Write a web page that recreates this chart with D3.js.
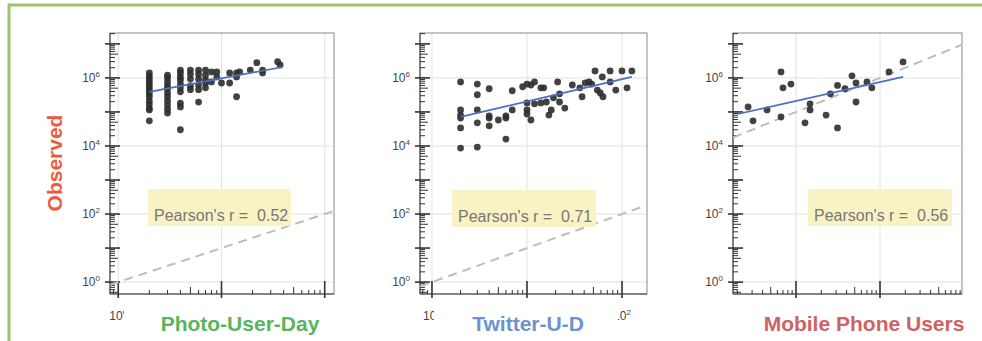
<!DOCTYPE html>
<html><head><meta charset="utf-8">
<script src="https://cdn.jsdelivr.net/npm/d3@7"></script>
<style>
body{margin:0;background:#fff}
svg{display:block;font-family:"Liberation Sans",Arial,sans-serif}
</style>
</head><body>
<svg id="c" width="982" height="341"></svg>
<script>
// ---------------- data ----------------
const titles = ["Photo-User-Day", "Twitter-U-D", "Mobile Phone Users"];
const yAxisTitle = "Observed";
const pearsonR = ["0.52", "0.71", "0.56"];

const photoX = [2,2,2,2,2,2,2,2,2,2,2,2,2,2,
  3,3,3,3,3,3,3,3,3,3,3,
  4,4,4,4,4,4,4,4,4,4,
  5,5,5,5,5,
  6,6,6,6,6,6,
  7,7,7,7,7,
  8,8, 9,9, 10, 12,12, 14,14,14, 15, 19, 22, 25,25, 35, 37];
const photoY = [1.4e6,1.15e6,9.3e5,7.6e5,6.2e5,5.1e5,4.2e5,3.4e5,2.8e5,2.1e5,1.7e5,1.3e5,1.15e5,5.5e4,
  1.2e6,1.0e6,7.6e5,5.8e5,4.8e5,3.6e5,2.8e5,2.1e5,1.6e5,1.2e5,9.3e4,
  1.7e6,1.4e6,1.07e6,8.7e5,6.6e5,5.1e5,3.9e5,1.8e5,1.4e5,3.0e4,
  1.7e6,1.3e6,9.3e5,5.8e5,4.5e5,
  1.7e6,1.3e6,9.3e5,6.2e5,4.5e5,1.95e5,
  1.7e6,1.2e6,8.7e5,7.1e5,5.1e5,
  1.5e6,7.6e5, 1.5e6,1.07e6, 7.1e5, 7.1e5,1.4e6, 1.4e6,1.07e6,2.8e5, 1.5e6, 1.7e6, 2.8e6, 1.7e6,1.4e6, 3.0e6, 2.4e6];

const twitterX = [2,2,2,2,2,2, 3,3,3,3,3, 4,4,4,4, 5, 6,6,6, 7,7, 9,
  10,10,10,10, 11,11, 12, 12, 14,15, 14, 16, 17, 18, 19, 21, 22,22, 25, 30, 36, 38, 41, 45, 48,
  52, 55, 59, 62, 63, 75, 75, 86, 100, 113, 127];
const twitterY = [7.6e5,1.15e5,8.1e4,6.6e4,3.4e4,8.7e3, 6.6e5,3.2e5,1.15e5,4.8e4,9.3e3,
  4.8e5,7.6e4,6.6e4,3.9e4, 5.8e4, 7.6e4,6.6e4,1.6e4, 4.2e5,1.15e5, 5.5e5,
  6.6e5,1.84e5,1.15e5,8.7e4, 5.8e4,6.2e5, 7.6e5, 1.73e5, 5.1e5,5.1e5, 1.84e5, 1.96e5, 8.1e4, 1.15e5, 2.6e5,
  7.6e5, 3.4e5,1.96e5, 1.3e5, 6.2e5, 5.1e5, 2.8e5, 7.1e5, 7.6e5, 6.6e5,
  1.6e6, 4.4e5, 3.6e5, 1.07e6, 2.8e5, 1.6e6, 7.6e5, 4.4e5, 1.6e6, 5.1e5, 1.6e6];

const mobileX = [2.69e4,3.08e4,4.52e4,6.63e4,7.0e4,6.63e4,8.7e4,1.28e5,1.47e5,1.47e5,2.28e5,
  2.57e5,3.12e5,3.12e5,3.83e5,4.64e5,5.18e5,5.18e5,7.0e5,8.0e5,1.28e6,1.88e6];
const mobileY = [1.4e5,5.5e4,1.15e5,1.5e6,5.1e5,7.1e4,6.6e5,4.8e4,1.73e5,1.15e5,8.1e4,
  3.4e5,3.4e4,6.0e5,4.8e5,1.15e6,7.1e5,1.96e5,7.6e5,5.1e5,1.5e6,2.95e6];

// log-log least-squares fits as drawn: log10(y) = intercept + slope*log10(x)
const fitSlope = [0.566, 0.652, 0.555];
const fitIntercept = [5.42, 4.66, 2.548];
const fitXRange = [[2, 39], [2, 127], [2.04e4, 1.88e6]];

const yTickExps = [0, 2, 4, 6];
const xGridExps = [[0, 1, 2], [0, 1, 2], [5, 6]];
const xLabelExps = [[0], [0, 2], []];   // the others are hidden under the panel titles

// ---------------- layout ----------------
const series = [[photoX, photoY], [twitterX, twitterY], [mobileX, mobileY]];
const titleColors = ["#58b55c", "#6b93d0", "#cf6262"];
const plotTop = 33, plotBottom = 294;
const panels = [
  {x0: 110, x1: 334, xd: [Math.pow(10, -0.08), Math.pow(10, 2.09)], tcx: 240, cover: [124, 345], pbox: [148, 189, 143, 37]},
  {x0: 420, x1: 647, xd: [Math.pow(10, -0.126), Math.pow(10, 2.263)], tcx: 528, cover: [434, 618], pbox: [452, 190, 144, 37]},
  {x0: 733, x1: 962, xd: [Math.pow(10, 4.25), Math.pow(10, 6.976)], tcx: 864, cover: [700, 982], pbox: [808, 189, 144, 37]}
];
const yd = [Math.pow(10, -0.35), Math.pow(10, 7.32)];

const svg = d3.select("#c");
svg.append("rect").attr("x", 0).attr("y", 0).attr("width", 982).attr("height", 341).attr("fill", "#fff");
// green frame
svg.append("line").attr("x1", 8).attr("x2", 982).attr("y1", 5).attr("y2", 5).attr("stroke", "#9cc46a").attr("stroke-width", 3);
svg.append("line").attr("x1", 9).attr("x2", 9).attr("y1", 4).attr("y2", 341).attr("stroke", "#9cc46a").attr("stroke-width", 3);

const defs = svg.append("defs");

panels.forEach((p, i) => {
  const x = d3.scaleLog().domain(p.xd).range([p.x0, p.x1]);
  const y = d3.scaleLog().domain(yd).range([plotBottom, plotTop]);
  const g = svg.append("g");

  defs.append("clipPath").attr("id", "clip" + i).append("rect")
    .attr("x", p.x0).attr("y", plotTop).attr("width", p.x1 - p.x0).attr("height", plotBottom - plotTop);
  // label clip: everything except the title strip
  const lc = defs.append("clipPath").attr("id", "lclip" + i);
  lc.append("rect").attr("x", 0).attr("y", 298).attr("width", p.cover[0]).attr("height", 43);
  lc.append("rect").attr("x", p.cover[1]).attr("y", 298).attr("width", 982 - p.cover[1]).attr("height", 43);

  // grid
  yTickExps.forEach(e => {
    const yy = y(Math.pow(10, e));
    g.append("line").attr("x1", p.x0).attr("x2", p.x1).attr("y1", yy).attr("y2", yy).attr("stroke", "#e2e2e2");
  });
  xGridExps[i].forEach(e => {
    const xx = x(Math.pow(10, e));
    if (xx > p.x0 + 2 && xx < p.x1 - 1)
      g.append("line").attr("x1", xx).attr("x2", xx).attr("y1", plotTop).attr("y2", plotBottom).attr("stroke", "#e2e2e2");
  });

  // box
  g.append("rect").attr("x", p.x0).attr("y", plotTop).attr("width", p.x1 - p.x0).attr("height", plotBottom - plotTop)
    .attr("fill", "none").attr("stroke", "#8a8a8a").attr("stroke-width", 1);
  g.append("line").attr("x1", p.x0).attr("x2", p.x1).attr("y1", plotBottom).attr("y2", plotBottom).attr("stroke", "#444").attr("stroke-width", 1.2);
  g.append("line").attr("x1", p.x0).attr("x2", p.x0).attr("y1", plotTop).attr("y2", plotBottom).attr("stroke", "#555").attr("stroke-width", 1.2);

  // y ticks
  for (let e = -1; e <= 7; e++) {
    for (let k = 1; k <= 9; k++) {
      const v = k * Math.pow(10, e);
      if (v < yd[0] || v > yd[1]) continue;
      const yy = y(v);
      let xa = p.x0, xb = p.x0 + 5, w = 1;
      if (k === 1) { xa = p.x0 - 5; xb = p.x0 + 10; w = 1.6; }
      else if (k === 5) { xb = p.x0 + 8; }
      g.append("line").attr("x1", xa).attr("x2", xb).attr("y1", yy).attr("y2", yy).attr("stroke", "#333").attr("stroke-width", w);
    }
  }
  // x ticks
  const e0 = Math.floor(Math.log10(p.xd[0])), e1 = Math.ceil(Math.log10(p.xd[1]));
  for (let e = e0; e <= e1; e++) {
    for (let k = 1; k <= 9; k++) {
      const v = k * Math.pow(10, e);
      if (v < p.xd[0] || v > p.xd[1]) continue;
      const xx = x(v);
      let ya = plotBottom - 4, yb = plotBottom, w = 1;
      if (k === 1) { ya = plotBottom - 13; yb = plotBottom + 4; w = 1.6; }
      else if (k === 5) { ya = plotBottom - 7; }
      g.append("line").attr("x1", xx).attr("x2", xx).attr("y1", ya).attr("y2", yb).attr("stroke", "#333").attr("stroke-width", w);
    }
  }

  // y tick labels
  yTickExps.forEach(e => {
    const t = g.append("text").attr("x", p.x0 - 10).attr("y", y(Math.pow(10, e)) + 4)
      .attr("text-anchor", "end").attr("font-size", 12).attr("fill", "#444");
    t.append("tspan").text("10");
    t.append("tspan").attr("dy", -5).attr("font-size", 8).text(e);
  });
  // x tick labels (partly hidden by the title strip)
  const lg = g.append("g").attr("clip-path", "url(#lclip" + i + ")");
  xLabelExps[i].forEach(e => {
    const t = lg.append("text").attr("x", x(Math.pow(10, e))).attr("y", 320)
      .attr("text-anchor", "middle").attr("font-size", 12).attr("fill", "#444");
    t.append("tspan").text("10");
    t.append("tspan").attr("dy", -5).attr("font-size", 8).text(e);
  });

  const clip = g.append("g").attr("clip-path", "url(#clip" + i + ")");
  // identity line
  clip.append("line").attr("x1", x(p.xd[0])).attr("y1", y(p.xd[0]))
    .attr("x2", x(p.xd[1])).attr("y2", y(p.xd[1]))
    .attr("stroke", "#bdbdbd").attr("stroke-width", 2).attr("stroke-dasharray", "9,6");

  // points
  const [xs, ys] = series[i];
  clip.selectAll("circle.pt").data(xs.map((v, j) => [v, ys[j]])).join("circle")
    .attr("cx", d => x(d[0])).attr("cy", d => y(d[1])).attr("r", 3.4)
    .attr("fill", "#2e2e2e").attr("fill-opacity", 0.9);

  // fit line
  const fr = fitXRange[i];
  const fy = v => Math.pow(10, fitIntercept[i] + fitSlope[i] * Math.log10(v));
  clip.append("line").attr("x1", x(fr[0])).attr("y1", y(fy(fr[0])))
    .attr("x2", x(fr[1])).attr("y2", y(fy(fr[1])))
    .attr("stroke", "#4b6fc2").attr("stroke-width", 1.7);

  // Pearson box
  const b = p.pbox;
  g.append("rect").attr("x", b[0]).attr("y", b[1]).attr("width", b[2]).attr("height", b[3]).attr("fill", "#f9f3c3");
  g.append("text").attr("x", b[0] + 6).attr("y", b[1] + 32).attr("font-size", 16).attr("fill", "#777")
    .style("white-space", "pre").text("Pearson's r =  " + pearsonR[i]);

  // title
  g.append("text").attr("x", p.tcx).attr("y", 331).attr("text-anchor", "middle")
    .attr("font-size", 21).attr("font-weight", "bold").attr("fill", titleColors[i]).text(titles[i]);
});

svg.append("text").attr("transform", "translate(62,163) rotate(-90)").attr("text-anchor", "middle")
  .attr("font-size", 21).attr("font-weight", "bold").attr("fill", "#ef5a3e").text(yAxisTitle);
</script>
</body></html>
